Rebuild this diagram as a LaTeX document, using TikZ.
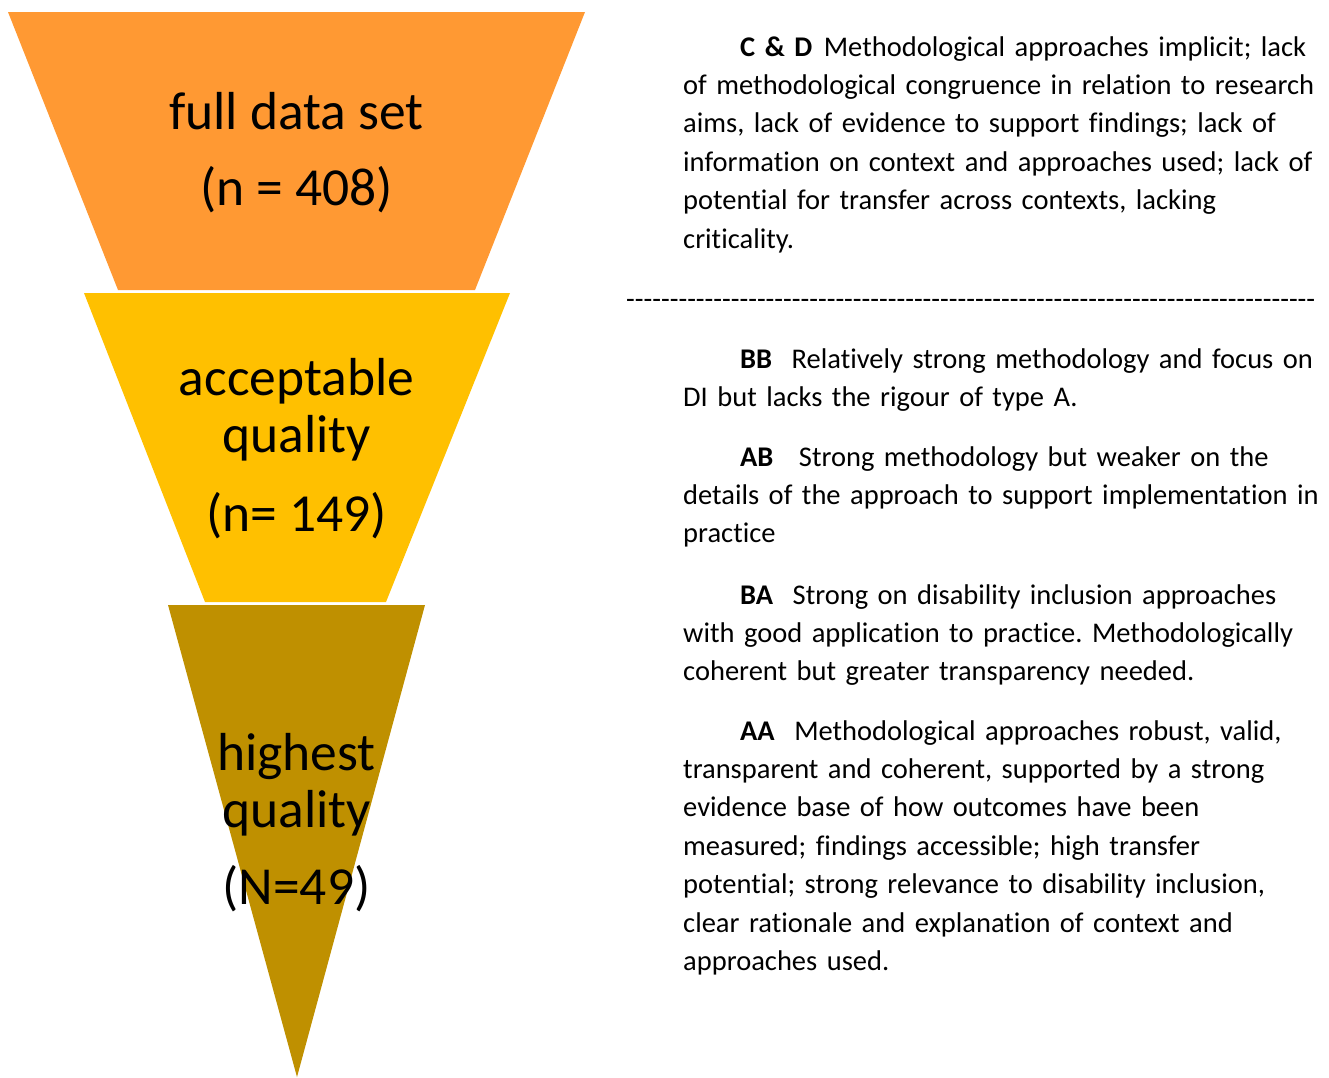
\documentclass[tikz,border=0pt]{standalone}
\usepackage{fontspec}
\setmainfont[Ligatures={TeX,NoCommon}]{Carlito}
\frenchspacing
\definecolor{funnelorange}{RGB}{255,153,51}
\definecolor{funnelyellow}{RGB}{255,192,0}
\definecolor{funnelgold}{RGB}{191,144,0}
\tikzset{
  bigtext/.style={font=\fontsize{53.5}{57}\selectfont, anchor=base, inner sep=0pt},
  desc/.style={font=\fontsize{28.5}{38.4}\selectfont, anchor=base west, align=left,
    text width=700pt, inner sep=0pt}
}
\begin{document}
\begin{tikzpicture}[x=1pt,y=-1pt]
   \useasboundingbox (0,0) rectangle (1329,1077);
   % funnel
   \fill[funnelorange] (8,12) -- (585,12) -- (475,290) -- (118,290) -- cycle;
   \fill[funnelyellow] (84,293) -- (510,293) -- (386,602) -- (205,602) -- cycle;
   \fill[funnelgold] (168,605) -- (425,605) -- (297,1077) -- cycle;
   \node[bigtext] (full) at (296.5,129) {full data set};
   \node[bigtext] (fulln) at (296.5,205) {(n = 408)};
   \node[bigtext] (accept) at (296.5,395) {acceptable};
   \node[bigtext] (acceptq) at (296.5,452) {quality};
   \node[bigtext] (acceptn) at (296.5,531) {(n= 149)};
   \node[bigtext] (high) at (296.5,770) {highest};
   \node[bigtext] (highq) at (296.5,827) {quality};
   \node[bigtext] (highn) at (296.5,904) {(N=49)};
   % descriptions
   \node[desc] (cd) at (683,56) {\hspace*{57pt}{\bfseries C \& D}\hspace{2pt} Methodological approaches implicit; lack\\
   of methodological congruence in relation to research\\
   aims, lack of evidence to support findings; lack of\\
   information on context and approaches used; lack of\\
   potential for transfer across contexts, lacking\\
   criticality.};
   \node[font=\fontsize{28.5}{38.4}\selectfont, anchor=base west, inner sep=0pt] (rule) at (626,308)
   {\foreach \i in {1,...,79}{-}};
   \node[desc] (bb) at (683,368) {\hspace*{57pt}{\bfseries BB}\hspace{10pt} Relatively strong methodology and focus on\\
   DI but lacks the rigour of type A.};
   \node[desc] (ab) at (683,466) {\hspace*{57pt}{\bfseries AB}\hspace{16pt} Strong methodology but weaker on the\\
   details of the approach to support implementation in\\
   practice};
   \node[desc] (ba) at (683,604) {\hspace*{57pt}{\bfseries BA}\hspace{10pt} Strong on disability inclusion approaches\\
   with good application to practice. Methodologically\\
   coherent but greater transparency needed.};
   \node[desc] (aa) at (683,740) {\hspace*{57pt}{\bfseries AA}\hspace{10pt} Methodological approaches robust, valid,\\
   transparent and coherent, supported by a strong\\
   evidence base of how outcomes have been\\
   measured; findings accessible; high transfer\\
   potential; strong relevance to disability inclusion,\\
   clear rationale and explanation of context and\\
   approaches used.};
\end{tikzpicture}
\end{document}
